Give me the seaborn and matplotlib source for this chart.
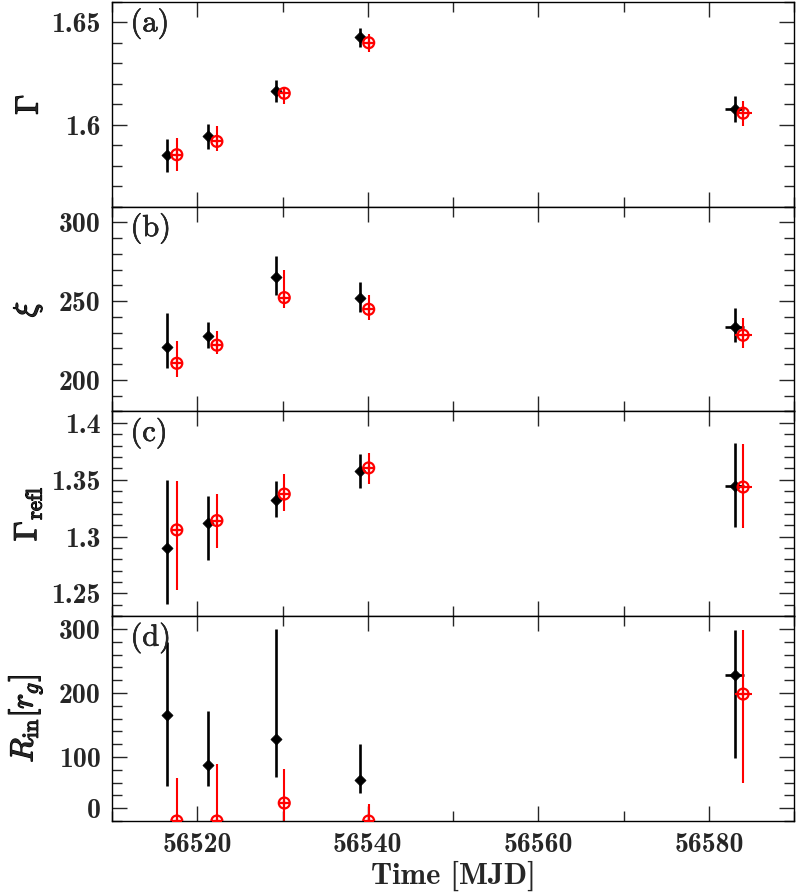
import numpy as np
import pandas as pd
import seaborn as sns
import matplotlib.pyplot as plt
import matplotlib.patheffects as pe
from matplotlib.ticker import MultipleLocator, FixedLocator, FixedFormatter

# observation times (MJD)
mjd_black = [56516.5, 56521.3, 56529.2, 56539.1, 56583.0]
mjd_red = [56517.6, 56522.3, 56530.2, 56540.1, 56584.0]
xerr_black = [0.4, 0.4, 0.4, 0.4, 1.1]
xerr_red = [0.4, 0.4, 0.4, 0.4, 1.0]

# (a) photon index
gamma_black = [1.5851, 1.5943, 1.6166, 1.6427, 1.6078]
gamma_black_lo = [1.5770, 1.5880, 1.6111, 1.6381, 1.6013]
gamma_black_hi = [1.5931, 1.6005, 1.6219, 1.6472, 1.6143]
gamma_red = [1.5854, 1.5919, 1.6154, 1.6401, 1.6057]
gamma_red_lo = [1.5776, 1.5873, 1.6102, 1.6357, 1.5992]
gamma_red_hi = [1.5935, 1.5995, 1.6182, 1.6446, 1.6117]

# (b) ionisation
xi_black = [220.9, 227.8, 265.5, 251.8, 233.7]
xi_black_lo = [207.6, 220.6, 253.9, 242.9, 223.9]
xi_black_hi = [242.5, 237.1, 278.8, 262.1, 245.5]
xi_red = [210.6, 222.1, 252.3, 244.9, 228.4]
xi_red_lo = [201.9, 216.6, 245.9, 238.0, 220.0]
xi_red_hi = [224.9, 230.8, 270.0, 253.9, 239.6]

# (c) reflection photon index
grefl_black = [1.2898, 1.3118, 1.3324, 1.3574, 1.3447]
grefl_black_lo = [1.2406, 1.2794, 1.3171, 1.3427, 1.3088]
grefl_black_hi = [1.3500, 1.3359, 1.3492, 1.3727, 1.3824]
grefl_red = [1.3059, 1.3141, 1.3374, 1.3604, 1.3436]
grefl_red_lo = [1.2530, 1.2898, 1.3221, 1.3465, 1.3074]
grefl_red_hi = [1.3485, 1.3374, 1.3551, 1.3736, 1.3818]

# (d) inner radius
rin_black = [166.1, 86.9, 128.6, 64.5, 228.6]
rin_black_lo = [55.2, 54.0, 68.8, 43.8, 98.4]
rin_black_hi = [280.0, 171.3, 300.0, 120.8, 299.0]
rin_red = [0.0, 0.0, 28.1, 0.0, 198.4]
rin_red_lo = [0.0, 0.0, 0.0, 0.0, 59.4]
rin_red_hi = [67.2, 89.0, 81.7, 27.0, 299.0]

rin_tick_labels = ["0", "100", "200", "300"]

panels = [
    ("(a)", r"$\Gamma$", (gamma_black, gamma_black_lo, gamma_black_hi),
     (gamma_red, gamma_red_lo, gamma_red_hi)),
    ("(b)", r"$\xi$", (xi_black, xi_black_lo, xi_black_hi),
     (xi_red, xi_red_lo, xi_red_hi)),
    ("(c)", r"$\Gamma_{\rm refl}$", (grefl_black, grefl_black_lo, grefl_black_hi),
     (grefl_red, grefl_red_lo, grefl_red_hi)),
    ("(d)", r"$R_{\rm in}[r_g]$", (rin_black, rin_black_lo, rin_black_hi),
     (rin_red, rin_red_lo, rin_red_hi)),
]

sns.set_style("ticks")
plt.rcParams["font.family"] = ["cmb10", "DejaVu Serif"]
plt.rcParams["mathtext.fontset"] = "cm"
plt.rcParams["axes.unicode_minus"] = False
plt.rcParams["axes.linewidth"] = 1.0

# slightly heavier strokes for the serif labels
heavy = [pe.withStroke(linewidth=0.9, foreground="black")]
medium = [pe.withStroke(linewidth=0.4, foreground="black")]

fig, axes = plt.subplots(4, 1, figsize=(7.97, 8.96), dpi=100, sharex=True)
fig.subplots_adjust(left=0.1405, right=0.9966, top=0.9978, bottom=0.0837, hspace=0)

for ax, (tag, ylab, blk, red) in zip(axes, panels):
    yb, yb_lo, yb_hi = (np.array(v) for v in blk)
    yr, yr_lo, yr_hi = (np.array(v) for v in red)
    ax.errorbar(mjd_black, yb, yerr=[yb - yb_lo, yb_hi - yb], xerr=xerr_black,
                fmt="none", ecolor="black", elinewidth=1.9, capsize=0, zorder=2)
    ax.errorbar(mjd_red, yr, yerr=[yr - yr_lo, yr_hi - yr], xerr=xerr_red,
                fmt="none", ecolor="red", elinewidth=1.5, capsize=0, zorder=2)
    df_b = pd.DataFrame({"mjd": mjd_black, "val": yb})
    df_r = pd.DataFrame({"mjd": mjd_red, "val": yr})
    sns.scatterplot(data=df_b, x="mjd", y="val", ax=ax, marker="D", s=32,
                    color="black", edgecolor="black", linewidth=0.5, zorder=3)
    sns.scatterplot(data=df_r, x="mjd", y="val", ax=ax, marker="o", s=62,
                    facecolor="none", edgecolor="red", linewidth=1.6, zorder=4)
    sns.scatterplot(data=df_r, x="mjd", y="val", ax=ax, marker="+", s=62,
                    color="red", linewidth=1.6, zorder=4)
    ax.set_xlabel("")
    ax.set_ylabel(ylab, fontsize=23, path_effects=heavy)
    ax.yaxis.set_label_coords(-0.10, 0.5)
    ax.text(0.027, 0.97, tag, transform=ax.transAxes, ha="left", va="top",
            fontsize=22, family="cmr10", path_effects=medium)
    ax.tick_params(which="both", direction="in", top=True, right=True, width=1.0,
                   labelsize=20, pad=8)
    ax.tick_params(which="major", length=11)
    ax.tick_params(which="minor", length=7)

axes[0].set_ylim(1.56, 1.66)
axes[0].yaxis.set_major_locator(FixedLocator([1.6, 1.65]))
axes[0].yaxis.set_major_formatter(FixedFormatter(["1.6", "1.65"]))
axes[0].yaxis.set_minor_locator(MultipleLocator(0.01))

axes[1].set_ylim(180, 310)
axes[1].yaxis.set_major_locator(MultipleLocator(50))
axes[1].yaxis.set_minor_locator(MultipleLocator(10))

axes[2].set_ylim(1.23, 1.41)
axes[2].yaxis.set_major_locator(FixedLocator([1.25, 1.3, 1.35, 1.4]))
axes[2].yaxis.set_major_formatter(FixedFormatter(["1.25", "1.3", "1.35", "1.4"]))
axes[2].yaxis.set_minor_locator(MultipleLocator(0.01))

axes[3].set_ylim(0, 320)
axes[3].yaxis.set_major_locator(FixedLocator([20, 100, 200, 300]))
axes[3].yaxis.set_major_formatter(FixedFormatter(rin_tick_labels))
axes[3].yaxis.set_minor_locator(MultipleLocator(20))

axes[3].set_xlim(56510, 56590)
axes[3].xaxis.set_major_locator(MultipleLocator(20))
axes[3].xaxis.set_minor_locator(MultipleLocator(10))
axes[3].xaxis.set_major_formatter(plt.FuncFormatter(lambda v, p: f"{v:.0f}"))
axes[3].set_xlabel("Time [MJD]", fontsize=22, labelpad=2)

for ax in axes:
    for sp in ax.spines.values():
        sp.set_color("black")

fig.savefig("out.png", dpi=100)
